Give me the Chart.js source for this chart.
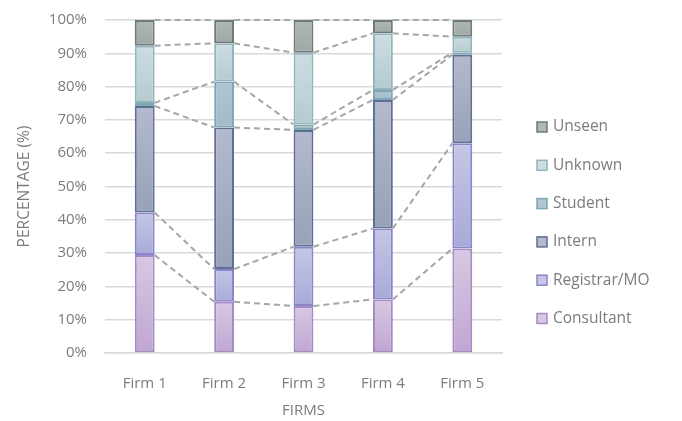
<!DOCTYPE html>
<html>
<head>
<meta charset="utf-8">
<script src="https://cdn.jsdelivr.net/npm/chart.js@4/dist/chart.umd.min.js"></script>
<style>
  html, body { margin: 0; padding: 0; background: #fff; }
  #wrap { width: 682px; height: 421px; }
</style>
</head>
<body>
<div id="wrap"><canvas id="firmChart" width="682" height="421"></canvas></div>
<script>
const firms = ['Firm 1', 'Firm 2', 'Firm 3', 'Firm 4', 'Firm 5'];
const consultant = [29.4, 15.4, 14.1, 16.1, 31.4];
const registrar = [12.8, 9.8, 17.8, 21.3, 31.6];
const intern = [32.0, 42.5, 35.1, 38.6, 26.6];
const student = [0.9, 13.8, 1.6, 3.0, 0.6];
const unknown = [17.2, 11.5, 21.6, 17.0, 4.8];
const unseen = [7.7, 7.0, 9.8, 4.0, 5.0];
const yTicks = [0, 10, 20, 30, 40, 50, 60, 70, 80, 90, 100];

const textGrey = '#7c7c7c';
const fontFamily = '"Open Sans", sans-serif';

// each segment gets its own light-to-dark vertical gradient, like the Excel fill
function segmentFill(top, bottom) {
    return function (c) {
        const chart = c.chart;
        const y = chart.scales.y;
        if (!y || c.type !== 'data') return top;
        let start = 0;
        for (let k = 0; k < c.datasetIndex; k++) start += chart.data.datasets[k].data[c.dataIndex];
        const end = start + c.raw;
        const y0 = y.getPixelForValue(end), y1 = y.getPixelForValue(start);
        if (!isFinite(y0) || !isFinite(y1)) return top;
        const g = chart.ctx.createLinearGradient(0, y0, 0, y1);
        g.addColorStop(0, top);
        g.addColorStop(1, bottom);
        return g;
    };
}

function series(label, data, top, bottom, border) {
    return {
        label: label,
        data: data,
        legendColor: top,
        backgroundColor: segmentFill(top, bottom),
        borderColor: border,
        borderWidth: 2,
        borderSkipped: false,
        barPercentage: 0.25,
        categoryPercentage: 1
    };
}

// dashed series lines joining the top of each segment between neighbouring bars
const seriesLines = {
    id: 'seriesLines',
    afterDatasetsDraw(chart) {
        const ctx = chart.ctx;
        ctx.save();
        ctx.strokeStyle = '#a6a6a6';
        ctx.lineWidth = 2;
        ctx.setLineDash([6, 4]);
        chart.data.datasets.forEach((ds, i) => {
            const bars = chart.getDatasetMeta(i).data;
            for (let j = 0; j < bars.length - 1; j++) {
                const a = bars[j], b = bars[j + 1];
                ctx.beginPath();
                ctx.moveTo(a.x + a.width / 2, a.y);
                ctx.lineTo(b.x - b.width / 2, b.y);
                ctx.stroke();
            }
        });
        ctx.restore();
    }
};

// legend on the right, listed top-down from the last series
const sideLegend = {
    id: 'sideLegend',
    afterDraw(chart) {
        const ctx = chart.ctx;
        const sets = chart.data.datasets.slice().reverse();
        ctx.save();
        ctx.font = '15.5px ' + fontFamily;
        ctx.textBaseline = 'middle';
        sets.forEach((ds, i) => {
            const y = 127 + i * 38.3;
            ctx.fillStyle = ds.legendColor;
            ctx.fillRect(537, y - 5, 10, 10);
            ctx.strokeStyle = ds.borderColor;
            ctx.lineWidth = 1.5;
            ctx.strokeRect(537, y - 5, 10, 10);
            ctx.fillStyle = textGrey;
            ctx.fillText(ds.label, 553, y);
        });
        ctx.restore();
    }
};

new Chart(document.getElementById('firmChart').getContext('2d'), {
    type: 'bar',
    data: {
        labels: firms,
        datasets: [
            series('Consultant', consultant, '#d8c8e2', '#c0a6d2', '#a48bc6'),
            series('Registrar/MO', registrar, '#c6c6e6', '#a9a9d8', '#8a85c8'),
            series('Intern', intern, '#b5b9cd', '#97a1b8', '#5f6e94'),
            series('Student', student, '#b0c6d0', '#a0bcc8', '#7ea6b4'),
            series('Unknown', unknown, '#cddde1', '#b4cbd0', '#92b4bc'),
            series('Unseen', unseen, '#b0b8b4', '#9ea8a6', '#6e7a7a')
        ]
    },
    options: {
        responsive: false,
        animation: false,
        layout: { padding: { top: 20, right: 180, left: 0, bottom: 0 } },
        plugins: {
            legend: { display: false },
            tooltip: { enabled: false }
        },
        scales: {
            x: {
                stacked: true,
                grid: { display: false, drawTicks: false },
                border: { color: '#d9d9d9', width: 1.5 },
                ticks: { color: textGrey, font: { family: fontFamily, size: 15 }, padding: 22 },
                title: {
                    display: true, text: 'FIRMS', color: textGrey,
                    font: { family: fontFamily, size: 15 }, padding: { top: 0, bottom: 1 }
                },
                afterFit(s) { s.height = 68; s.paddingLeft = 0; s.paddingRight = 0; }
            },
            y: {
                stacked: true,
                min: 0,
                max: 100,
                afterBuildTicks(s) { s.ticks = yTicks.map(v => ({ value: v })); },
                grid: { color: '#d9d9d9', lineWidth: 1.5, drawTicks: false },
                border: { display: false },
                ticks: {
                    color: textGrey,
                    font: { family: fontFamily, size: 15 },
                    padding: 18,
                    callback: v => v + '%'
                },
                title: {
                    display: true, text: 'PERCENTAGE (%)', color: textGrey,
                    font: { family: fontFamily, size: 15.5 }, padding: { top: 15, bottom: 0 }
                },
                afterFit(s) { s.width = 105; s.paddingTop = 0; s.paddingBottom = 0; }
            }
        }
    },
    plugins: [seriesLines, sideLegend]
});
</script>
</body>
</html>
